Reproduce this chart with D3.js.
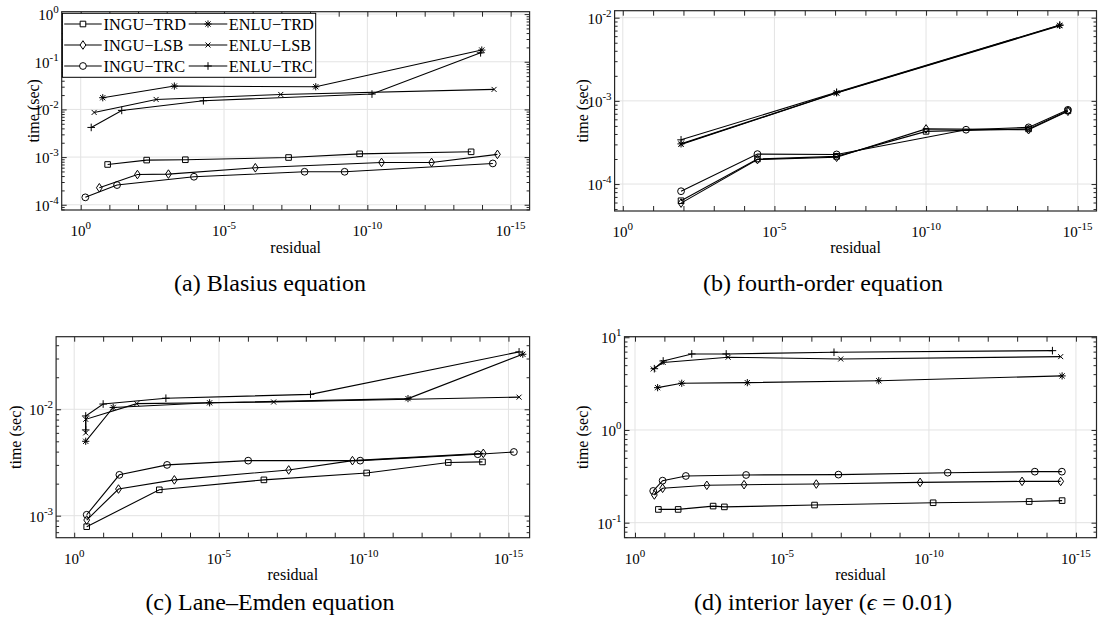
<!DOCTYPE html>
<html>
<head>
<meta charset="utf-8">
<script src="https://cdn.jsdelivr.net/npm/d3@7"></script>
<style>
  body { margin: 0; background: #fff; }
</style>
</head>
<body>
<svg id="chart" width="1098" height="624"></svg>
<script>
// series names and markers (same order in every panel)
const seriesNames = ["INGU\u2212TRD", "INGU\u2212LSB", "INGU\u2212TRC", "ENLU\u2212TRD", "ENLU\u2212LSB", "ENLU\u2212TRC"];
const markerKinds = ["square", "diamond", "circle", "asterisk", "cross", "plus"];
const xTickExponents = [0, -5, -10, -15];

// (a) Blasius equation : [residual, time]
const blasiusInguTrd = [[1.15e-1, 7.0e-4], [5.0e-3, 8.65e-4], [2.24e-4, 8.8e-4], [5.6e-8, 9.8e-4], [1.86e-10, 1.17e-3], [2.4e-14, 1.29e-3]];
const blasiusInguLsb = [[2.24e-1, 2.27e-4], [1.05e-2, 4.3e-4], [8.7e-4, 4.4e-4], [8.1e-7, 5.97e-4], [3.2e-11, 7.72e-4], [5.75e-13, 7.72e-4], [2.9e-15, 1.14e-3]];
const blasiusInguTrc = [[6.9e-1, 1.43e-4], [5.4e-2, 2.59e-4], [1.12e-4, 3.87e-4], [1.55e-8, 4.92e-4], [6.2e-10, 4.92e-4], [4.2e-15, 7.36e-4]];
const blasiusEnluTrd = [[1.7e-1, 1.76e-2], [5.4e-4, 3.09e-2], [6.3e-9, 2.99e-2], [1.02e-14, 1.76e-1]];
const blasiusEnluLsb = [[3.4e-1, 8.65e-3], [2.34e-3, 1.62e-2], [1.05e-7, 2.06e-2], [3.8e-15, 2.63e-2]];
const blasiusEnluTrc = [[4.3e-1, 4.19e-3], [3.7e-2, 9.53e-3], [5.25e-5, 1.52e-2], [6.9e-11, 2.10e-2], [1.12e-14, 1.54e-1]];

// (b) fourth-order equation
const fourthInguTrd = [[1.2e-2, 6.3e-5], [3.63e-5, 2.0e-4], [8.9e-8, 2.15e-4], [1.0e-10, 4.3e-4], [4.17e-14, 4.6e-4], [2.1e-15, 7.6e-4]];
const fourthInguLsb = [[1.2e-2, 5.9e-5], [3.63e-5, 1.97e-4], [8.9e-8, 2.1e-4], [1.0e-10, 4.6e-4], [4.17e-14, 4.5e-4], [2.1e-15, 7.5e-4]];
const fourthInguTrc = [[1.2e-2, 8.2e-5], [3.63e-5, 2.29e-4], [8.9e-8, 2.27e-4], [4.8e-12, 4.5e-4], [4.17e-14, 4.8e-4], [2.1e-15, 7.8e-4]];
const fourthEnluTrd = [[1.2e-2, 3.04e-4], [8.9e-8, 1.25e-3], [3.9e-15, 8.1e-3]];
const fourthEnluLsb = [[1.2e-2, 3.0e-4], [8.9e-8, 1.24e-3], [3.9e-15, 8.0e-3]];
const fourthEnluTrc = [[1.2e-2, 3.4e-4], [8.9e-8, 1.27e-3], [3.9e-15, 8.15e-3]];

// (c) Lane-Emden equation
const laneInguTrd = [[3.7e-1, 7.88e-4], [1.15e-3, 1.75e-3], [2.8e-7, 2.17e-3], [7.9e-11, 2.52e-3], [1.2e-13, 3.16e-3], [7.9e-15, 3.2e-3]];
const laneInguLsb = [[3.7e-1, 9.1e-4], [2.95e-2, 1.78e-3], [3.47e-4, 2.17e-3], [3.9e-8, 2.69e-3], [2.45e-10, 3.29e-3], [7.4e-15, 3.85e-3]];
const laneInguTrc = [[3.7e-1, 1.02e-3], [2.75e-2, 2.42e-3], [6.2e-4, 3.0e-3], [9.8e-7, 3.29e-3], [1.32e-10, 3.29e-3], [1.15e-14, 3.78e-3], [6.5e-16, 3.97e-3]];
const laneEnluTrd = [[4.0e-1, 5.0e-3], [4.5e-2, 1.04e-2], [2.1e-5, 1.15e-2], [2.95e-12, 1.26e-2], [3.2e-16, 3.29e-2]];
const laneEnluLsb = [[4.0e-1, 6.0e-3], [4.0e-1, 8.05e-3], [6.9e-3, 1.13e-2], [1.29e-7, 1.17e-2], [4.3e-16, 1.30e-2]];
const laneEnluTrc = [[4.0e-1, 6.4e-3], [4.0e-1, 8.65e-3], [1.0e-1, 1.12e-2], [6.8e-4, 1.27e-2], [6.9e-9, 1.38e-2], [4.3e-16, 3.46e-2]];

// (d) interior layer
const interiorInguTrd = [[1.6e-1, 0.139], [3.4e-2, 0.139], [2.2e-3, 0.151], [9.1e-4, 0.148], [7.8e-7, 0.155], [7.2e-11, 0.164], [3.9e-14, 0.169], [2.95e-15, 0.173]];
const interiorInguLsb = [[2.2e-1, 0.199], [1.15e-1, 0.235], [3.6e-3, 0.253], [1.95e-4, 0.257], [6.8e-7, 0.261], [2.0e-10, 0.272], [6.8e-14, 0.279], [3.3e-15, 0.279]];
const interiorInguTrc = [[2.4e-1, 0.22], [1.15e-1, 0.284], [1.86e-2, 0.319], [1.66e-4, 0.327], [1.2e-7, 0.33], [2.3e-11, 0.346], [2.5e-14, 0.355], [3.0e-15, 0.355]];
const interiorEnluTrd = [[1.7e-1, 2.86], [2.57e-2, 3.19], [1.51e-4, 3.24], [5.1e-9, 3.40], [2.95e-15, 3.83]];
const interiorEnluLsb = [[2.4e-1, 4.55], [1.1e-1, 5.35], [6.8e-4, 6.09], [1.0e-7, 5.83], [3.3e-15, 6.18]];
const interiorEnluTrc = [[2.2e-1, 4.58], [1.1e-1, 5.55], [1.17e-2, 6.61], [7.9e-4, 6.61], [1.7e-7, 6.89], [6.3e-15, 7.17]];

const panels = [
  {l: 61.7, t: 11.7, r: 529.6, b: 210, xd: [0.663, -15.66], yd: [-4.11, 0.05], ylx: 33, xly: 253,
   capX: 270, capY: 291, caption: "(a) Blasius equation", legend: true,
   series: [blasiusInguTrd, blasiusInguLsb, blasiusInguTrc, blasiusEnluTrd, blasiusEnluLsb, blasiusEnluTrc]},
  {l: 614.6, t: 10.7, r: 1096.5, b: 211, xd: [0.27, -15.62], yd: [-4.324, -1.916], ylx: 582, xly: 253,
   capX: 823, capY: 291, caption: "(b) fourth-order equation",
   series: [fourthInguTrd, fourthInguLsb, fourthInguTrc, fourthEnluTrd, fourthEnluLsb, fourthEnluTrc]},
  {l: 56.1, t: 336.7, r: 529.6, b: 537.7, xd: [0.625, -15.73], yd: [-3.207, -1.318], ylx: 15, xly: 580,
   capX: 270, capY: 610, caption: "(c) Lane\u2013Emden equation",
   series: [laneInguTrd, laneInguLsb, laneInguTrc, laneEnluTrd, laneEnluLsb, laneEnluTrc]},
  {l: 624.5, t: 336.7, r: 1096.5, b: 537.7, xd: [0.357, -15.70], yd: [-1.162, 1.006], ylx: 582, xly: 580,
   capX: 823, capY: 610, caption: null,
   series: [interiorInguTrd, interiorInguLsb, interiorInguTrc, interiorEnluTrd, interiorEnluLsb, interiorEnluTrc]}
];

const FONT = "'Liberation Serif', 'Times New Roman', Times, serif";
const svg = d3.select("#chart").attr("font-family", FONT);

function markerPath(kind) {
  switch (kind) {
    case "square": return "M-2.8,-2.8H2.8V2.8H-2.8Z";
    case "diamond": return "M0,-4.3L2.9,0L0,4.3L-2.9,0Z";
    case "circle": return "M3.4,0A3.4,3.4 0 1,1 -3.4,0A3.4,3.4 0 1,1 3.4,0Z";
    case "asterisk": return "M0,-3.6V3.6M-3.6,0H3.6M-2.6,-2.6L2.6,2.6M-2.6,2.6L2.6,-2.6";
    case "cross": return "M-2.5,-2.5L2.5,2.5M-2.5,2.5L2.5,-2.5";
    case "plus": return "M0,-3.8V3.8M-3.8,0H3.8";
  }
}

function powLabel(sel, exp) {
  sel.append("tspan").text("10");
  sel.append("tspan").attr("dy", -7).attr("font-size", 11).text(exp < 0 ? "-" + (-exp) : String(exp));
}

function drawPanel(p) {
  const g = svg.append("g");
  const x = d3.scaleLog().domain([10 ** p.xd[0], 10 ** p.xd[1]]).range([p.l, p.r]);
  const y = d3.scaleLog().domain([10 ** p.yd[0], 10 ** p.yd[1]]).range([p.b, p.t]);

  const xDecades = d3.range(0, -16, -1).map(e => 10 ** e);
  const xLabeled = xTickExponents.map(e => 10 ** e);
  const yExps = d3.range(Math.ceil(p.yd[0]), Math.floor(p.yd[1] + 1e-9) + 1);
  const yDecades = yExps.map(e => 10 ** e);
  const yMinor = [];
  d3.range(Math.floor(p.yd[0]), Math.ceil(p.yd[1])).forEach(n => {
    for (let k = 2; k <= 9; k++) {
      const v = k * 10 ** n;
      if (v > 10 ** p.yd[0] && v < 10 ** p.yd[1]) yMinor.push(v);
    }
  });

  // grid
  g.append("g").selectAll("line").data(xLabeled).join("line")
    .attr("x1", d => x(d)).attr("x2", d => x(d)).attr("y1", p.t).attr("y2", p.b)
    .attr("stroke", "#e3e3e3").attr("stroke-width", 1);
  g.append("g").selectAll("line").data(yDecades).join("line")
    .attr("x1", p.l).attr("x2", p.r).attr("y1", d => y(d)).attr("y2", d => y(d))
    .attr("stroke", "#e3e3e3").attr("stroke-width", 1);

  // axes ticks (inward)
  const fmt = () => "";
  const axes = [
    [d3.axisBottom(x).tickValues(xDecades).tickSize(-5), `translate(0,${p.b})`],
    [d3.axisTop(x).tickValues(xDecades).tickSize(-5), `translate(0,${p.t})`],
    [d3.axisLeft(y).tickValues(yDecades).tickSize(-5), `translate(${p.l},0)`],
    [d3.axisRight(y).tickValues(yDecades).tickSize(-5), `translate(${p.r},0)`],
    [d3.axisLeft(y).tickValues(yMinor).tickSize(-3), `translate(${p.l},0)`],
    [d3.axisRight(y).tickValues(yMinor).tickSize(-3), `translate(${p.r},0)`]
  ];
  axes.forEach(([ax, tr]) => {
    const a = g.append("g").attr("transform", tr).call(ax.tickFormat(fmt));
    a.select(".domain").remove();
    a.selectAll("line").attr("stroke", "#262626");
  });

  // lines and markers
  const line = d3.line().x(d => x(d[0])).y(d => y(d[1]));
  p.series.forEach((s, i) => {
    g.append("path").datum(s).attr("d", line)
      .attr("fill", "none").attr("stroke", "#000").attr("stroke-width", 1.1);
    g.append("g").selectAll("path").data(s).join("path")
      .attr("transform", d => `translate(${x(d[0])},${y(d[1])})`)
      .attr("d", markerPath(markerKinds[i]))
      .attr("fill", "none").attr("stroke", "#000").attr("stroke-width", 1);
  });

  // box
  g.append("rect").attr("x", p.l).attr("y", p.t).attr("width", p.r - p.l).attr("height", p.b - p.t)
    .attr("fill", "none").attr("stroke", "#262626").attr("stroke-width", 1.2);

  // tick labels
  xLabeled.forEach((v, i) => {
    const t = g.append("text").attr("x", x(v)).attr("y", p.b + 26)
      .attr("text-anchor", "middle").attr("font-size", 15);
    powLabel(t, xTickExponents[i]);
  });
  yExps.forEach(e => {
    const t = g.append("text").attr("x", p.l - 3).attr("y", y(10 ** e) + 6)
      .attr("text-anchor", "end").attr("font-size", 15);
    powLabel(t, e);
  });

  // axis titles
  g.append("text").attr("x", (p.l + p.r) / 2).attr("y", p.xly)
    .attr("text-anchor", "middle").attr("font-size", 16).text("residual");
  const ym = (p.t + p.b) / 2;
  g.append("text").attr("transform", `translate(${p.ylx},${ym}) rotate(-90)`)
    .attr("text-anchor", "middle").attr("dy", "0.35em").attr("font-size", 16).text("time (sec)");

  // caption
  const cap = g.append("text").attr("x", p.capX).attr("y", p.capY)
    .attr("text-anchor", "middle").attr("font-size", 24);
  if (p.caption) cap.text(p.caption);
  else {
    cap.append("tspan").text("(d) interior layer (");
    cap.append("tspan").attr("font-style", "italic").text("\u03f5");
    cap.append("tspan").text(" = 0.01)");
  }

  if (p.legend) drawLegend(g);
}

function drawLegend(g) {
  const lg = g.append("g");
  lg.append("rect").attr("x", 62.4).attr("y", 13.3).attr("width", 253.3).attr("height", 64)
    .attr("fill", "#fff").attr("stroke", "#000").attr("stroke-width", 1);
  const rows = [24, 45, 66];
  const cols = [{x1: 64.2, x2: 101.7, tx: 103.5}, {x1: 188.7, x2: 227.3, tx: 228.7}];
  seriesNames.forEach((name, i) => {
    const c = cols[Math.floor(i / 3)], ry = rows[i % 3];
    lg.append("line").attr("x1", c.x1).attr("x2", c.x2).attr("y1", ry).attr("y2", ry)
      .attr("stroke", "#000").attr("stroke-width", 1.1);
    lg.append("path").attr("transform", `translate(${(c.x1 + c.x2) / 2},${ry})`)
      .attr("d", markerPath(markerKinds[i])).attr("fill", "#fff").attr("stroke", "#000");
    lg.append("text").attr("x", c.tx).attr("y", ry + 6)
      .attr("font-size", 16.3).text(name);
  });
}

panels.forEach(drawPanel);
</script>
</body>
</html>
